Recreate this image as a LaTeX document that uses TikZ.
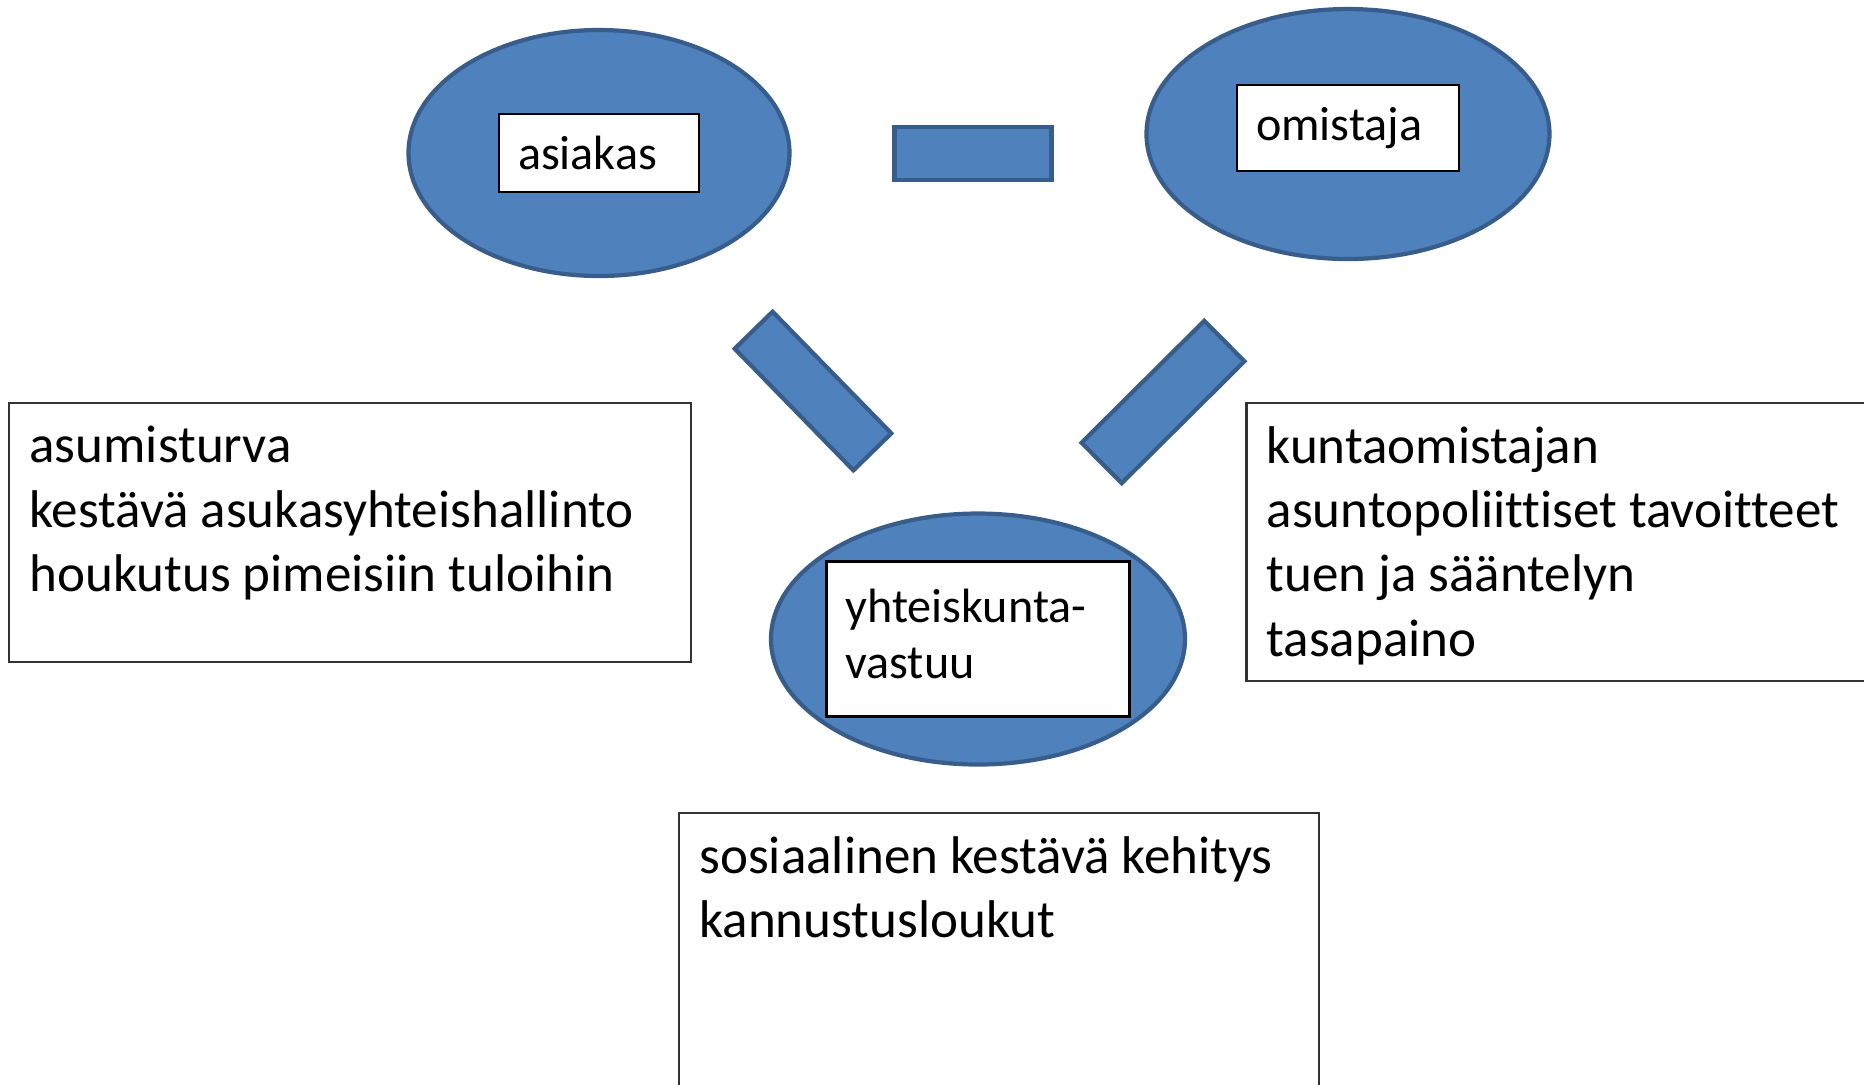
\documentclass[tikz,border=0pt]{standalone}
\usepackage{fontspec}
\setmainfont{Carlito}[Ligatures=NoCommon]
\usepackage{xcolor}
\usepackage{tikz}
\usetikzlibrary{positioning,shapes.geometric}
\definecolor{BlueFill}{RGB}{79,129,189}
\definecolor{BlueLine}{RGB}{56,93,138}
\newcommand{\notefont}{\fontsize{15.1pt}{18.3pt}\selectfont}
\newcommand{\tagfont}{\fontsize{13.7pt}{16.1pt}\selectfont}
\tikzset{
  party/.style={ellipse,draw=BlueLine,fill=BlueFill,line width=1.2pt,inner sep=0pt},
  bar/.style={rectangle,draw=BlueLine,fill=BlueFill,line width=1.2pt,inner sep=0pt},
  tag/.style={rectangle,draw=black,fill=white,line width=0.6pt,align=left,
              inner xsep=0.19cm,inner ysep=0pt,font=\tagfont},
  note/.style={rectangle,draw=black!80,line width=0.6pt,anchor=north west,inner sep=0pt},
  notetxt/.style={align=left,inner sep=0pt,font=\notefont},
}

\begin{document}
\begin{tikzpicture}
  \useasboundingbox (0,0) rectangle (18.64,-10.84);
  \clip (0,0) rectangle (18.64,-10.84);

  % osapuolet
  \node[party,minimum width=3.81cm,minimum height=2.46cm] (asi) at (5.99,-1.53) {};
  \node[party,minimum width=4.03cm,minimum height=2.50cm] (omi) at (13.48,-1.34) {};
  \node[party,minimum width=4.14cm,minimum height=2.51cm] (yht) at (9.78,-6.39) {};

  \node[tag,text width=1.62cm,minimum height=0.78cm] (asiT) at (asi) {asiakas};
  \node[tag,text width=1.84cm,minimum height=0.86cm] (omiT) at ([yshift=0.06cm]omi.center) {omistaja};
  \node[tag,text width=2.65cm,minimum height=1.55cm,text depth=0.67cm] (yhtT) at (yht) {yhteiskunta-\\vastuu};

  % palkit
  \node[bar,minimum width=1.57cm,minimum height=0.53cm] (b1) at (9.73,-1.535) {};
  \node[bar,rotate=-45.7,minimum width=1.70cm,minimum height=0.53cm] (b2) at (8.13,-3.91) {};
  \node[bar,rotate=44.8,minimum width=1.73cm,minimum height=0.57cm] (b3) at (11.63,-4.02) {};

  % tekstilaatikot
  \node[note,minimum width=6.82cm,minimum height=2.59cm] (asiN) at (0.083,-4.017) {};
  \node[notetxt,below right=0.24 and 0.205 of asiN.north west]
  {asumisturva\\kestävä asukasyhteishallinto\\houkutus pimeisiin tuloihin};

  \node[note,minimum width=6.8cm,minimum height=2.78cm] (omiN) at (12.454,-4.017) {};
  \node[notetxt,below right=0.24 and 0.205 of omiN.north west]
  {kuntaomistajan\\asuntopoliittiset tavoitteet\\tuen ja sääntelyn\\tasapaino};

  \node[note,minimum width=6.40cm,minimum height=3.2cm] (yhtN) at (6.782,-8.117) {};
  \node[notetxt,below right=0.24 and 0.205 of yhtN.north west]
  {sosiaalinen kestävä kehitys\\kannustusloukut};
\end{tikzpicture}
\end{document}
